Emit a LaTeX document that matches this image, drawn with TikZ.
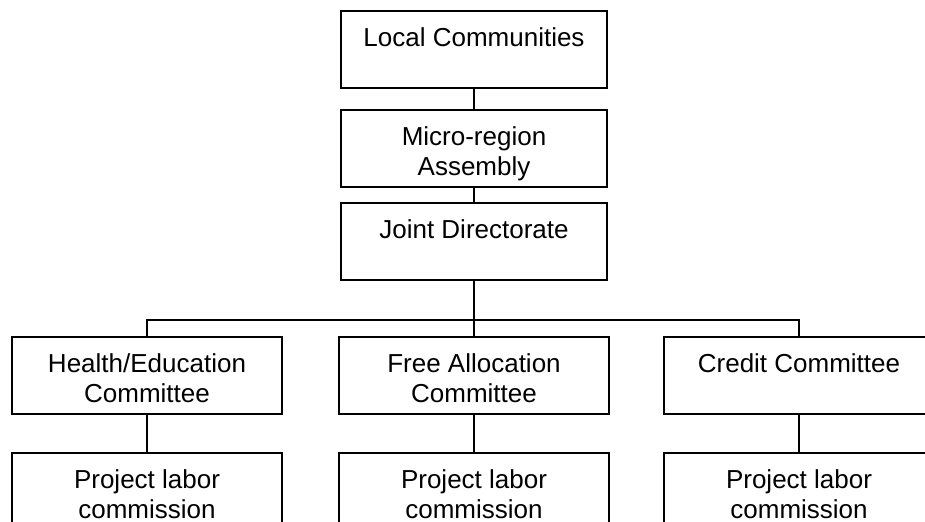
\documentclass[tikz,border=0pt]{standalone}
\usepackage{fontspec}
\setmainfont{Liberation Sans}
\tikzset{
  orgbox/.style={draw, line width=1pt, rectangle, align=center,
    font={\fontsize{13pt}{15pt}\selectfont},
    inner xsep=0pt, inner ysep=0pt, text height=17.5pt, text depth=21pt,
    minimum height=38.5pt, anchor=north},
  twolines/.style={text height=32.5pt, text depth=6pt},
  topbox/.style={orgbox, minimum width=133pt},
  cbox/.style={orgbox, minimum width=135pt},
  link/.style={line width=1pt}
}
\begin{document}
\begin{tikzpicture}[x=0.5pt, y=-0.5pt]
\useasboundingbox (0,0) rectangle (925,521);
\clip (0,0) rectangle (925,521);

% upper column
\node[topbox] (local) at (474,10) {Local Communities};
\node[topbox, twolines] (micro) at (474,109) {Micro-region\\Assembly};
\node[topbox] (joint) at (474,202) {Joint Directorate};

% committees
\node[cbox, twolines] (health) at (147,336) {Health/Education\\Committee};
\node[cbox, twolines] (free) at (474,336) {Free Allocation\\Committee};
\node[cbox] (credit) at (799,336) {Credit Committee};

% labor commissions
\node[cbox, twolines] (healthwork) at (147,452) {Project labor\\commission};
\node[cbox, twolines] (freework) at (474,452) {Project labor\\commission};
\node[cbox, twolines] (creditwork) at (799,452) {Project labor\\commission};

\coordinate (bus) at (474,320);

\draw[link] (local) -- (micro);
\draw[link] (micro) -- (joint);
\draw[link] (joint.south) -- (free.north);
\draw[link] (health.north) |- (bus) -| (credit.north);
\draw[link] (health) -- (healthwork);
\draw[link] (free) -- (freework);
\draw[link] (credit) -- (creditwork);
\end{tikzpicture}
\end{document}
